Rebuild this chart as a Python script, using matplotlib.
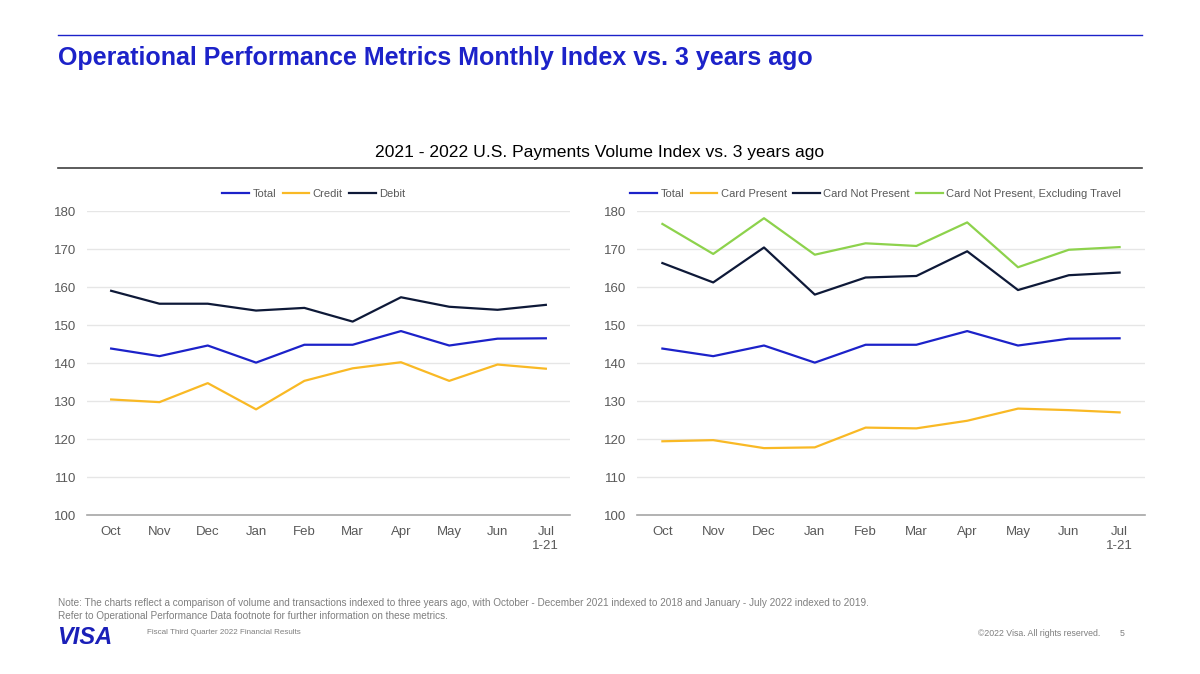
import matplotlib.pyplot as plt
import numpy as np

plt.rcParams['font.family'] = ['Liberation Sans', 'DejaVu Sans']

months = ["Oct", "Nov", "Dec", "Jan", "Feb", "Mar", "Apr", "May", "Jun", "Jul\n1-21"]

total = [143.8, 141.8, 144.6, 140.1, 144.8, 144.8, 148.4, 144.6, 146.4, 146.5]
credit = [130.4, 129.7, 134.7, 127.8, 135.3, 138.6, 140.2, 135.3, 139.6, 138.5]
debit = [159.0, 155.6, 155.6, 153.8, 154.5, 150.9, 157.3, 154.8, 154.0, 155.3]

card_present = [119.4, 119.7, 117.6, 117.8, 123.0, 122.8, 124.8, 128.0, 127.6, 127.0]
card_not_present = [166.3, 161.2, 170.4, 158.0, 162.5, 162.9, 169.4, 159.2, 163.1, 163.8]
cnp_ex_travel = [176.6, 168.7, 178.1, 168.5, 171.5, 170.8, 177.0, 165.2, 169.8, 170.5]

BLUE = "#1c22c9"
GOLD = "#f9b925"
NAVY = "#0e1938"
GREEN = "#8dd24c"
GREY = "#595959"

fig = plt.figure(figsize=(12, 6.74), dpi=100)

# header
fig.add_artist(plt.Line2D([58/1200, 1142/1200], [1-35/674]*2, color=BLUE, lw=1.0))
fig.text(58/1200, 1-58/674, "Operational Performance Metrics Monthly Index vs. 3 years ago",
         fontsize=18, fontweight="bold", color=BLUE, va="center")
fig.text(600/1200, 1-153/674, "2021 - 2022 U.S. Payments Volume Index vs. 3 years ago",
         fontsize=12.6, color="black", ha="center", va="center")
fig.add_artist(plt.Line2D([58/1200, 1142/1200], [1-168/674]*2, color="#404040", lw=1.2))


def style(ax):
    ax.set_ylim(100, 180)
    ax.set_yticks(range(100, 181, 10))
    ax.set_xlim(-0.5, 9.5)
    ax.set_xticks(range(len(months)))
    ax.set_xticklabels(months)
    ax.grid(axis="y", color="#e6e6e6", lw=1.0)
    ax.set_axisbelow(True)
    for s in ["top", "right", "left"]:
        ax.spines[s].set_visible(False)
    ax.spines["bottom"].set_color("#a6a6a6")
    ax.spines["bottom"].set_linewidth(1.2)
    ax.tick_params(axis="both", length=0, labelsize=9.5, labelcolor=GREY, pad=8)
    ax.tick_params(axis="y", pad=8)


bottom = 1 - 515/674
height = (515 - 211)/674

ax1 = fig.add_axes([87/1200, bottom, (570-87)/1200, height])
x = np.arange(len(months))
ax1.plot(x, total, color=BLUE, lw=1.6, label="Total")
ax1.plot(x, credit, color=GOLD, lw=1.6, label="Credit")
ax1.plot(x, debit, color=NAVY, lw=1.6, label="Debit")
style(ax1)
ax1.legend(loc="lower center", bbox_to_anchor=(0.47, 1.0), ncol=3, frameon=False,
           fontsize=8, labelcolor=GREY, handlelength=2.4, columnspacing=0.6,
           handletextpad=0.3, borderaxespad=0.7)

ax2 = fig.add_axes([637/1200, bottom, (1145-637)/1200, height])
ax2.plot(x, total, color=BLUE, lw=1.6, label="Total")
ax2.plot(x, card_present, color=GOLD, lw=1.6, label="Card Present")
ax2.plot(x, card_not_present, color=NAVY, lw=1.6, label="Card Not Present")
ax2.plot(x, cnp_ex_travel, color=GREEN, lw=1.6, label="Card Not Present, Excluding Travel")
style(ax2)
ax2.legend(loc="lower center", bbox_to_anchor=(0.47, 1.0), ncol=4, frameon=False,
           fontsize=8, labelcolor=GREY, handlelength=2.4, columnspacing=0.6,
           handletextpad=0.3, borderaxespad=0.7)

# footer
fig.text(58/1200, 1-603/674,
         "Note: The charts reflect a comparison of volume and transactions indexed to three years ago, "
         "with October - December 2021 indexed to 2018 and January - July 2022 indexed to 2019.",
         fontsize=7.2, color="#7f7f7f", va="center")
fig.text(58/1200, 1-616/674,
         "Refer to Operational Performance Data footnote for further information on these metrics.",
         fontsize=7.2, color="#7f7f7f", va="center")
fig.text(57/1200, 1-637/674, "VISA", fontsize=17, fontweight="heavy", fontstyle="italic",
         color="#1a1fb8", va="center")
fig.text(147/1200, 1-633/674, "Fiscal Third Quarter 2022 Financial Results",
         fontsize=5.8, color="#7f7f7f", va="center")
fig.text(1100/1200, 1-634/674, "\u00a92022 Visa. All rights reserved.",
         fontsize=6.3, color="#7f7f7f", va="center", ha="right")
fig.text(1122/1200, 1-634/674, "5", fontsize=6.3, color="#7f7f7f", va="center", ha="center")

fig.savefig("out.png", dpi=100)
